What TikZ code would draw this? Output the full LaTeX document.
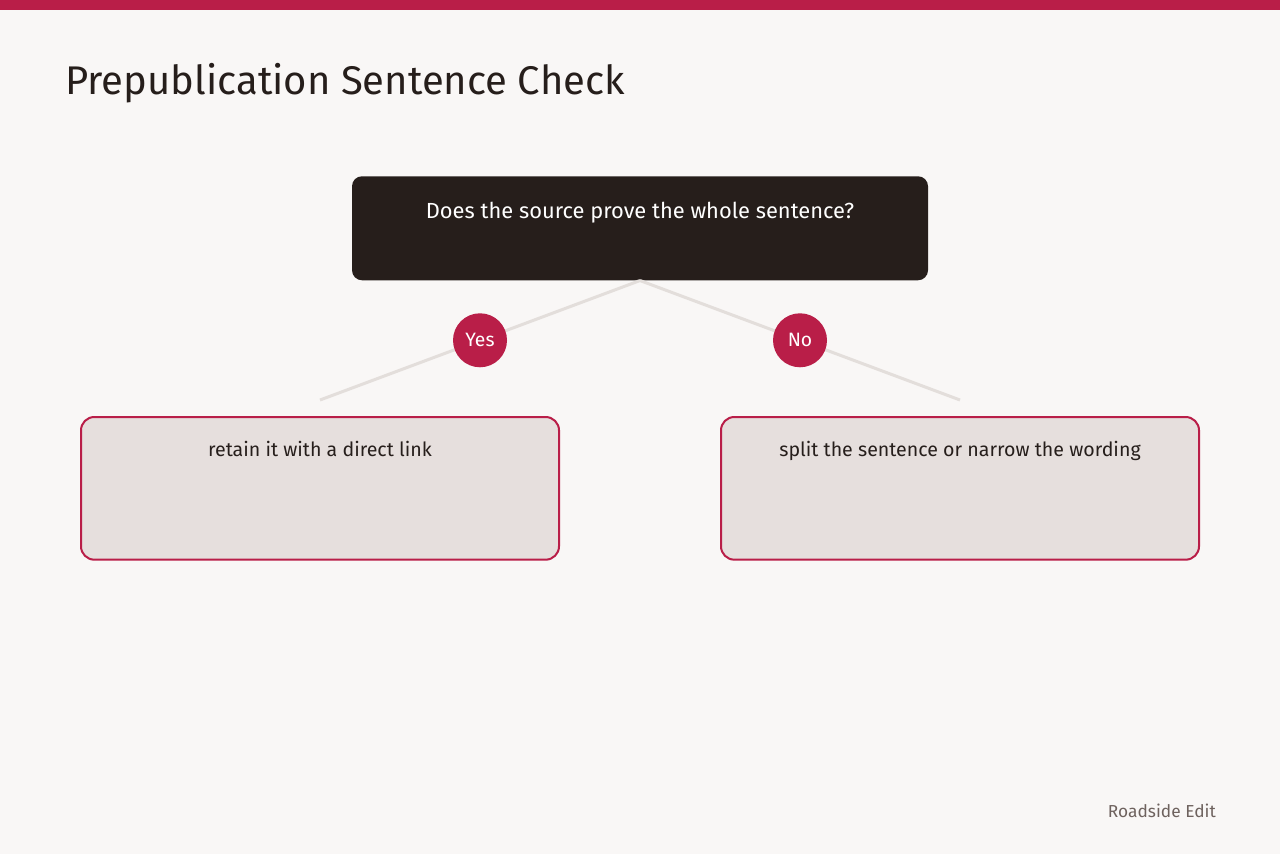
\documentclass[tikz,border=0pt]{standalone}
\usepackage{fontspec}
\setmainfont{Fira Sans}
\usetikzlibrary{positioning}
\definecolor{paper}{HTML}{F9F7F6}
\definecolor{crimson}{HTML}{B91E48}
\definecolor{ink}{HTML}{261E1B}
\definecolor{shade}{HTML}{E6DFDD}
\definecolor{rule}{HTML}{E3DEDB}
\definecolor{muted}{HTML}{6E625E}

\begin{document}
\begin{tikzpicture}[x=0.75pt, y=-0.75pt,
  question/.style = {shape=rectangle, rounded corners=7.5pt, fill=ink,
    text=white, inner sep=0pt, minimum width=432pt,
    text height=31.5pt, text depth=46.5pt,
    font=\fontsize{16.4}{19}\selectfont},
  answer/.style = {shape=rectangle, rounded corners=10pt, fill=shade,
    draw=crimson, line width=1.5pt, text=ink, inner sep=0pt,
    minimum width=358.5pt, text height=29.75pt, text depth=77.25pt,
    font=\fontsize{14.7}{17}\selectfont},
  badge/.style = {shape=circle, fill=crimson, text=white, inner sep=0pt,
    minimum size=40.5pt, font=\fontsize{14.5}{17}\selectfont},
  edge/.style = {draw=rule, line width=2.25pt}]
  % page
  \fill[paper] (0,0) rectangle (1280,854);
  \fill[crimson] (0,0) rectangle (1280,10);
  \node[anchor=base west, inner sep=0pt, text=ink,
    font=\fontsize{30}{36}\selectfont] (title) at (65,94)
    {Prepublication Sentence Check};
  % tree
  \node[question, anchor=north] (source) at (640,176)
    {Does the source prove the whole sentence?};
  \coordinate (yesend) at (320,400);
  \coordinate (noend) at (960,400);
  \draw[edge] (source.south) -- node[badge] (yes) {Yes} (yesend);
  \draw[edge] (source.south) -- node[badge] (no) {No} (noend);
  \node[answer, anchor=north] (retain) at (320,416)
    {retain it with a direct link};
  \node[answer, anchor=north] (split) at (960,416)
    {split the sentence or narrow the wording};
  \node[anchor=base east, inner sep=0pt, text=muted,
    font=\fontsize{13}{15}\selectfont] (brand) at (1216,817) {Roadside Edit};
\end{tikzpicture}
\end{document}
